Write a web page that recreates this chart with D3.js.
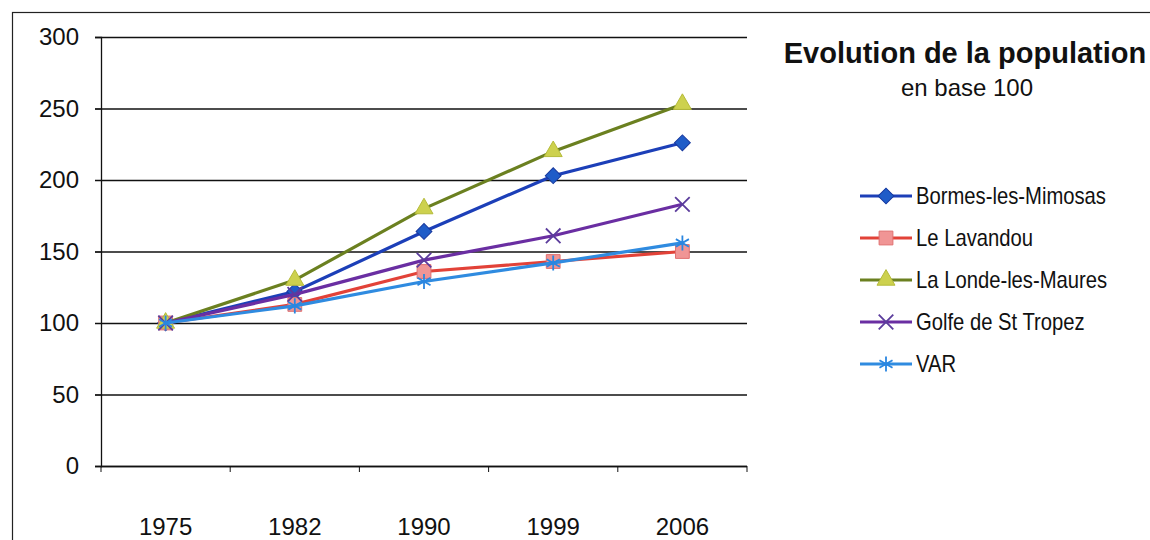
<!DOCTYPE html>
<html>
<head>
<meta charset="utf-8">
<script src="https://cdn.jsdelivr.net/npm/d3@7"></script>
<style>
  body { margin: 0; background: #fff; }
  svg { display: block; }
</style>
</head>
<body>
<div id="chart"></div>
<script>
// Data (base 100 in 1975)
const years = ["1975", "1982", "1990", "1999", "2006"];
const seriesNames = ["Bormes-les-Mimosas", "Le Lavandou", "La Londe-les-Maures", "Golfe de St Tropez", "VAR"];
const bormes   = [100, 122, 164, 203, 226];
const lavandou = [100, 113, 136, 143, 150];
const lalonde  = [100, 130, 180, 220, 253];
const golfe    = [100, 120, 144, 161, 183];
const varDep   = [100, 112, 129, 142, 156];
const yTicks = [0, 50, 100, 150, 200, 250, 300];

const width = 1150, height = 540;
const margin = {top: 37, right: 403, bottom: 74, left: 101};
const plotW = width - margin.left - margin.right;
const plotH = height - margin.top - margin.bottom;

// Styles per series (diamond = square turned 45 degrees, like Excel's)
const styles = [
    {line: "#1c3fb8", fill: "#1f5cc8", stroke: "#17389e", shape: d3.symbolSquare, size: 125, rot: 45},
    {line: "#e24238", fill: "#f09595", stroke: "#e07070", shape: d3.symbolSquare, size: 190, rot: 0},
    {line: "#6b8020", fill: "#cdd14e", stroke: "#b5bb3a", shape: d3.symbolTriangle, size: 140, rot: 0},
    {line: "#6a2ea2", fill: "none", stroke: "#5b3c9c", shape: d3.symbolX, size: 140, rot: 0},
    {line: "#2f8be0", fill: "none", stroke: "#2a86e0", shape: d3.symbolAsterisk, size: 160, rot: 0}
];
const allValues = [bormes, lavandou, lalonde, golfe, varDep];

const svg = d3.select("#chart")
    .append("svg")
    .attr("width", width)
    .attr("height", height)
    .style("font-family", "Liberation Sans, Arial, sans-serif");

// outer frame (right and bottom edges fall off the page)
svg.append("rect")
    .attr("x", 12.5).attr("y", 12.5)
    .attr("width", width).attr("height", height)
    .attr("fill", "none")
    .attr("stroke", "#222")
    .attr("stroke-width", 1.2);

const g = svg.append("g")
    .attr("transform", `translate(${margin.left}, ${margin.top})`);

const x = d3.scaleBand().domain(years).range([0, plotW]);
const y = d3.scaleLinear().domain([0, 300]).range([plotH, 0]);
const cx = d => x(d) + x.bandwidth() / 2;

// gridlines
g.append("g")
    .selectAll("line")
    .data(yTicks)
    .enter()
    .append("line")
    .attr("x1", -6)
    .attr("x2", plotW)
    .attr("y1", d => y(d) + 0.5)
    .attr("y2", d => y(d) + 0.5)
    .attr("stroke", "#111")
    .attr("stroke-width", 1.3);

// y axis
const yAxis = g.append("g")
    .call(d3.axisLeft(y).tickValues(yTicks).tickSize(6).tickPadding(16));
yAxis.select(".domain").attr("stroke", "#111").attr("stroke-width", 1.3);
yAxis.selectAll(".tick line").attr("stroke", "#111");
yAxis.selectAll("text")
    .style("font-size", "24px")
    .style("font-family", "Liberation Sans, Arial, sans-serif")
    .attr("fill", "#111");

// x axis: labels centred in bands, ticks on band edges
const xAxis = g.append("g")
    .attr("transform", `translate(0, ${plotH})`)
    .call(d3.axisBottom(x).tickSize(0).tickPadding(52));
xAxis.select(".domain").remove();
xAxis.selectAll("text")
    .style("font-size", "24px")
    .style("font-family", "Liberation Sans, Arial, sans-serif")
    .attr("fill", "#111");
g.append("line")
    .attr("x1", 0).attr("x2", plotW)
    .attr("y1", plotH + 0.5).attr("y2", plotH + 0.5)
    .attr("stroke", "#111").attr("stroke-width", 1.5);
g.append("g")
    .selectAll("line")
    .data(years.map(d => x(d)).concat([plotW]))
    .enter()
    .append("line")
    .attr("x1", d => d).attr("x2", d => d)
    .attr("y1", plotH).attr("y2", plotH + 6)
    .attr("stroke", "#111");

// lines and markers
const line = d3.line()
    .x((d, i) => cx(years[i]))
    .y(d => y(d));

allValues.forEach((vals, s) => {
    const st = styles[s];
    g.append("path")
        .datum(vals)
        .attr("d", line)
        .attr("fill", "none")
        .attr("stroke", st.line)
        .attr("stroke-width", 3.2);
    g.append("g")
        .selectAll("path")
        .data(vals)
        .enter()
        .append("path")
        .attr("transform", (d, i) => `translate(${cx(years[i])}, ${y(d)}) rotate(${st.rot})`)
        .attr("d", d3.symbol().type(st.shape).size(st.size))
        .attr("fill", st.fill)
        .attr("stroke", st.stroke)
        .attr("stroke-width", st.fill === "none" ? 1.8 : 1);
});

// title
svg.append("text")
    .attr("x", 965)
    .attr("y", 63)
    .attr("text-anchor", "middle")
    .style("font-size", "29px")
    .style("font-weight", "bold")
    .attr("fill", "#111")
    .text("Evolution de la population");
svg.append("text")
    .attr("x", 967)
    .attr("y", 96)
    .attr("text-anchor", "middle")
    .style("font-size", "24px")
    .attr("fill", "#111")
    .text("en base 100");

// legend
const legend = svg.append("g")
    .attr("transform", "translate(860, 196)");
const rowGap = 42;
seriesNames.forEach((name, s) => {
    const st = styles[s];
    const row = legend.append("g").attr("transform", `translate(0, ${s * rowGap})`);
    row.append("line")
        .attr("x1", 0).attr("x2", 52)
        .attr("stroke", st.line)
        .attr("stroke-width", 3.2);
    row.append("path")
        .attr("transform", `translate(26, 0) rotate(${st.rot})`)
        .attr("d", d3.symbol().type(st.shape).size(st.size))
        .attr("fill", st.fill)
        .attr("stroke", st.stroke)
        .attr("stroke-width", st.fill === "none" ? 1.8 : 1);
    // narrow lettering: squeeze the regular face horizontally
    row.append("text")
        .attr("transform", "translate(56, 8) scale(0.88, 1)")
        .style("font-size", "23px")
        .attr("fill", "#111")
        .text(name);
});
</script>
</body>
</html>
